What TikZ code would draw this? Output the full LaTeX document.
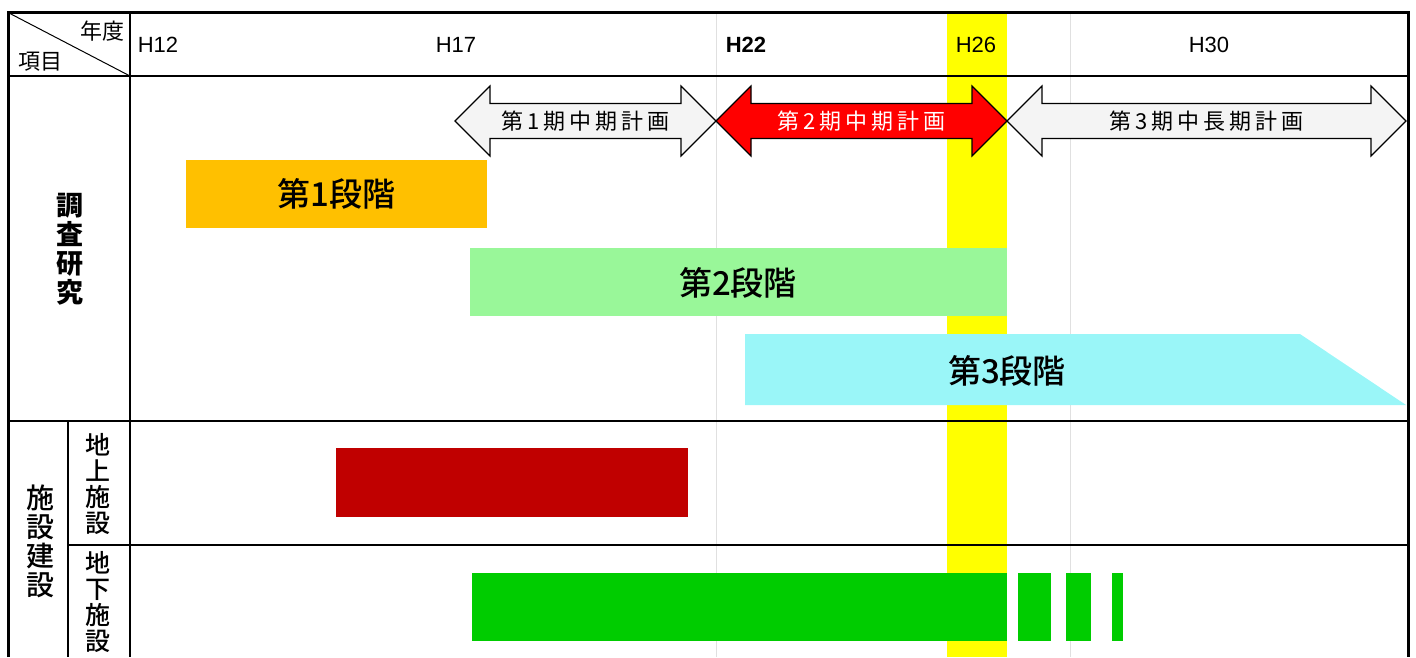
\documentclass[tikz,border=0pt]{standalone}
\usepackage{fontspec}
\setmainfont{Liberation Sans}
\newfontfamily\jpfont{Noto Sans CJK JP}
\newfontfamily\jpmed{Noto Sans CJK JP Medium}
\newfontfamily\jpwide[LetterSpace=18]{Noto Sans CJK JP}
\usetikzlibrary{shapes.arrows}
\definecolor{bandyellow}{HTML}{FFFF00}
\definecolor{stageone}{HTML}{FFC000}
\definecolor{stagetwo}{HTML}{99F799}
\definecolor{stagethree}{HTML}{9AF6F8}
\definecolor{groundred}{HTML}{C00000}
\definecolor{undergreen}{HTML}{00CC00}
\definecolor{planred}{HTML}{FF0000}
\definecolor{plangray}{HTML}{F4F4F4}

\begin{document}
\begin{tikzpicture}[x=1pt,y=-1pt,
  plan/.style={double arrow,draw=black,line width=1.2pt,minimum width=70pt,
    double arrow head extend=17.5pt,inner xsep=0pt,inner ysep=6.5pt,
    font=\jpwide\fontsize{22}{22}\selectfont},
  stage/.style={font=\jpmed\fontsize{33}{33}\selectfont},
  yearlbl/.style={font=\fontsize{22}{22}\selectfont},
  vlabel/.style={align=center,inner sep=0pt}]
\useasboundingbox (0,0) rectangle (1416,657);
  % yellow band for H26
  \fill[bandyellow] (947,12) rectangle (1007,657);
  \draw[black!12,line width=1pt] (716,12) -- (716,657) (1070,12) -- (1070,657);
  % stages
  \fill[stageone] (186,160) rectangle (487,228);
  \fill[stagetwo] (470,248) rectangle (1007,316);
  \fill[stagethree] (745,334) -- (1300,334) -- (1406,405) -- (745,405) -- cycle;
  \node[stage] (st1) at (336.5,194) {第1段階};
  \node[stage] (st2) at (738,283) {第2段階};
  \node[stage] (st3) at (1007,371) {第3段階};
  % construction
  \fill[groundred] (336,448) rectangle (688,517);
  \fill[undergreen] (472,573) rectangle (1007,641);
  \foreach \a/\b in {1018/1051,1066/1091,1112/1123}
    \fill[undergreen] (\a,573) rectangle (\b,641);
  % plans
  \node[plan,fill=plangray,minimum height=261pt] (p1) at (585.5,121) {第1期中期計画};
  \node[plan,fill=planred,text=white,minimum height=291pt] (p2) at (861.5,121) {第2期中期計画};
  \node[plan,fill=plangray,minimum height=399pt] (p3) at (1206.5,121) {第3期中長期計画};
  % table
  \draw[line width=3pt] (8,657) -- (8,12) -- (1408,12) -- (1408,657);
  \draw[line width=1.5pt] (8,76) -- (1408,76) (8,421) -- (1408,421) (68,545) -- (1408,545)
    (130,12) -- (130,657) (68,421) -- (68,657);
  \draw[line width=1pt] (9,13) -- (130,76);
  \node[font=\jpfont\fontsize{22}{22}\selectfont] (nendo) at (102,31) {年度};
  \node[font=\jpfont\fontsize{22}{22}\selectfont] (komoku) at (41,62) {項目};
  \node[yearlbl] (h12) at (158,45) {H12};
  \node[yearlbl] (h17) at (456,45) {H17};
  \node[yearlbl,font=\bfseries\fontsize{22}{22}\selectfont] (h22) at (746,45) {H22};
  \node[yearlbl] (h26) at (976,45) {H26};
  \node[yearlbl] (h30) at (1209,45) {H30};
  \node[vlabel,font=\jpfont\bfseries\fontsize{27}{29}\selectfont] (chosa) at (70,249) {調\\査\\研\\究};
  \node[vlabel,font=\jpmed\fontsize{28}{29}\selectfont] (shisetsu) at (40,541) {施\\設\\建\\設};
  \node[vlabel,font=\jpmed\fontsize{25}{26}\selectfont] (chijo) at (98,484) {地\\上\\施\\設};
  \node[vlabel,font=\jpmed\fontsize{25}{26}\selectfont,anchor=north] (chika) at (98,551) {地\\下\\施\\設};
\end{tikzpicture}
\end{document}
